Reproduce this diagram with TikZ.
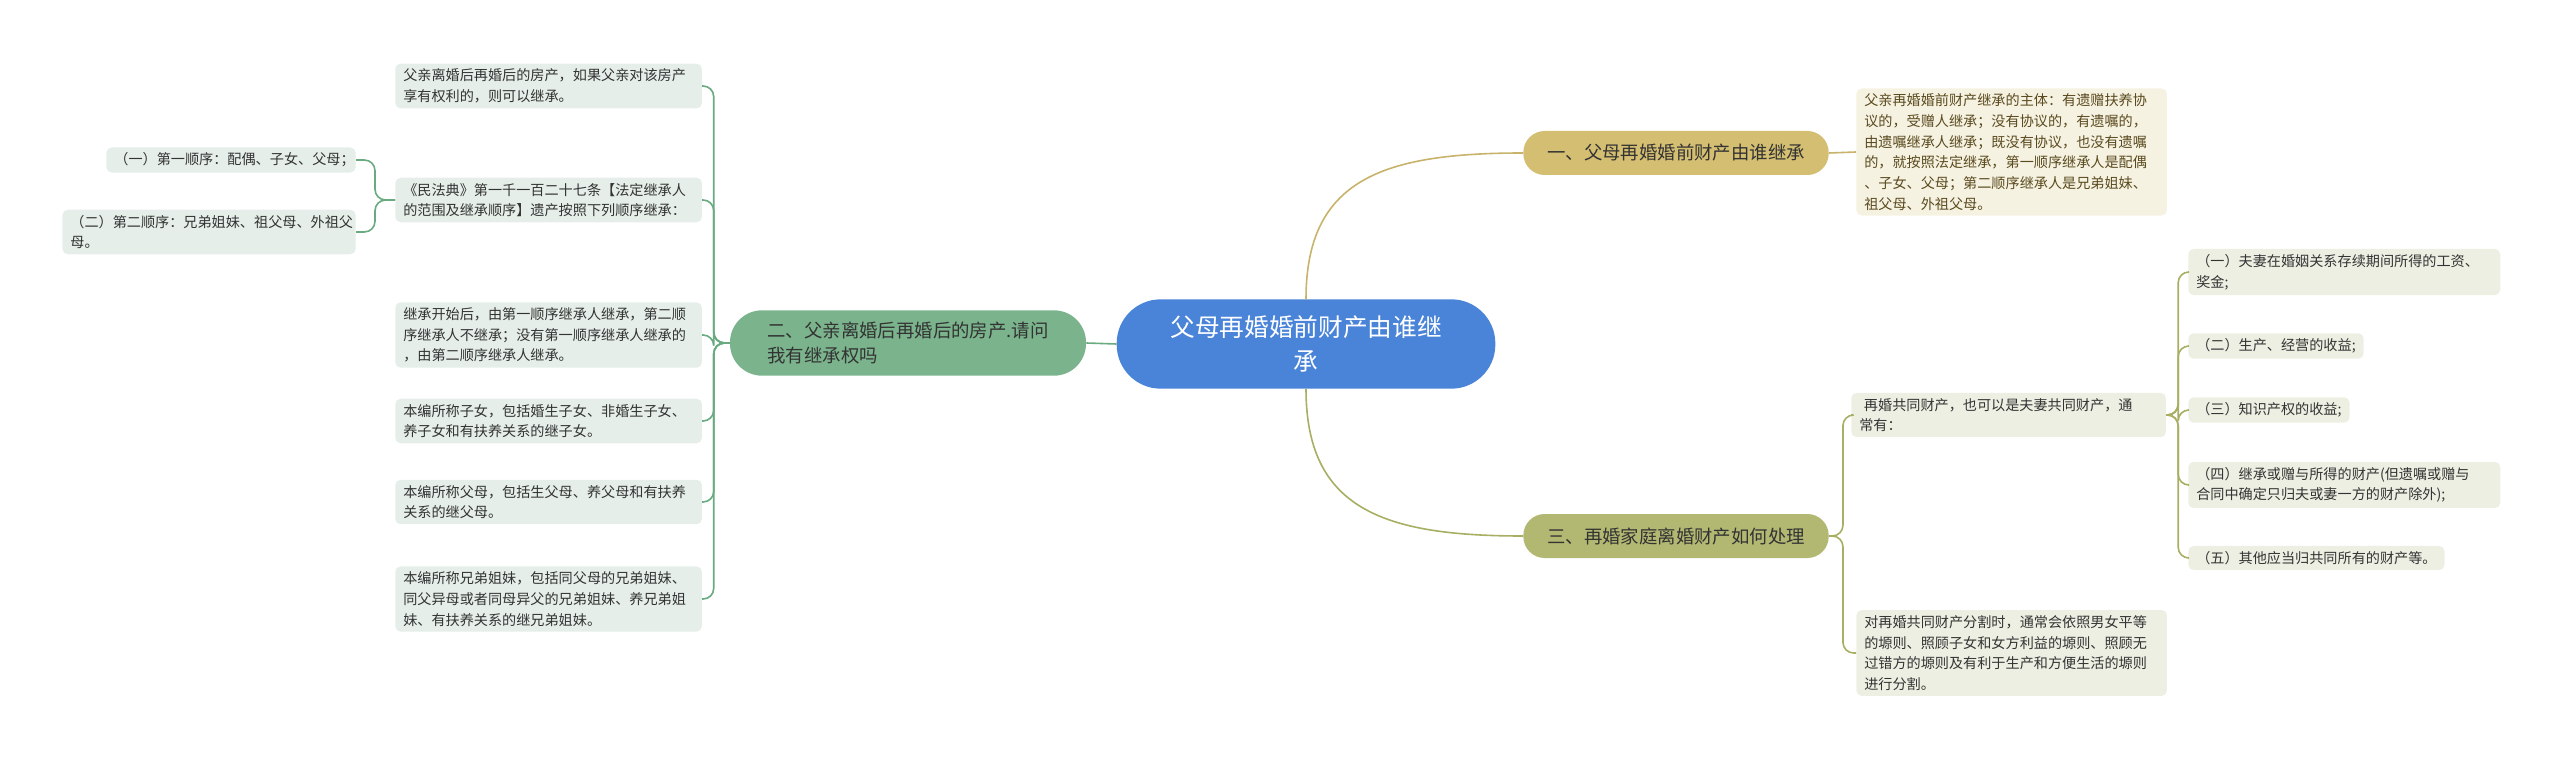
\documentclass[tikz,border=0pt]{standalone}
\usepackage{fontspec}
\setmainfont{Noto Sans CJK SC}
\definecolor{cblue}{HTML}{4A84D8}
\definecolor{cgreen}{HTML}{7AB38C}
\definecolor{lgreen}{HTML}{6AAA80}
\definecolor{cgold}{HTML}{D4BE72}
\definecolor{lgold}{HTML}{C8B36A}
\definecolor{colive}{HTML}{B2B872}
\definecolor{lolive}{HTML}{A8AE62}
\definecolor{fgreen}{HTML}{E5EEE8}
\definecolor{fgold}{HTML}{F6F2E2}
\definecolor{folive}{HTML}{EEEFE3}
\definecolor{tdark}{HTML}{333333}
\definecolor{tbrown}{HTML}{5A4A1E}
\tikzset{
  leaf/.style={rectangle, rounded corners=4pt, inner xsep=6pt, inner ysep=4pt, align=left, text=tdark,
    font=\fontsize{10.6}{15.5}\selectfont, anchor=west},
  gleaf/.style={leaf, fill=fgreen},
  oleaf/.style={leaf, fill=folive},
  yleaf/.style={leaf, fill=fgold, text=tbrown},
  mainb/.style={rectangle, rounded corners=16pt, minimum width=229pt, minimum height=33pt, font=\fontsize{13.8}{18}\selectfont, text=tdark},
  gl/.style={lgreen, line width=1.2pt, rounded corners=8pt},
  yl/.style={lgold, line width=1.2pt},
  ol/.style={lolive, line width=1.2pt, rounded corners=8pt},
}
\begin{document}
\begin{tikzpicture}[x=0.75pt,y=-0.75pt]
\useasboundingbox (0,0) rectangle (2560,759);
% center
\node[rectangle, rounded corners=33pt, fill=cblue, minimum width=284pt, minimum height=67pt, text=white, align=center,
  font=\fontsize{18.5}{26}\selectfont] (ctr) at (1306,344) {父母再婚婚前财产由谁继\\承};
% branches
\node[mainb, fill=cgold] (gold) at (1676,153) {一、父母再婚婚前财产由谁继承};
\node[mainb, fill=colive] (olive) at (1676,536) {三、再婚家庭离婚财产如何处理};
\node[rectangle, rounded corners=24pt, fill=cgreen, minimum width=267pt, minimum height=49pt, align=left, text=tdark,
  font=\fontsize{13.8}{19}\selectfont] (green) at (908,343) {二、父亲离婚后再婚后的房产.请问\\我有继承权吗};
% left leaves
\node[gleaf, text width=218pt] (b1) at (395,86) {父亲离婚后再婚后的房产，如果父亲对该房产\\享有权利的，则可以继承。};
\node[gleaf, text width=218pt] (b2) at (395,200) {《民法典》第一千一百二十七条【法定继承人\\的范围及继承顺序】遗产按照下列顺序继承：};
\node[gleaf, text width=218pt] (b3) at (395,335) {继承开始后，由第一顺序继承人继承，第二顺\\序继承人不继承；没有第一顺序继承人继承的\\，由第二顺序继承人继承。};
\node[gleaf, text width=218pt] (b4) at (395,421) {本编所称子女，包括婚生子女、非婚生子女、\\养子女和有扶养关系的继子女。};
\node[gleaf, text width=218pt] (b5) at (395,502) {本编所称父母，包括生父母、养父母和有扶养\\关系的继父母。};
\node[gleaf, text width=218pt] (b6) at (395,599) {本编所称兄弟姐妹，包括同父母的兄弟姐妹、\\同父异母或者同母异父的兄弟姐妹、养兄弟姐\\妹、有扶养关系的继兄弟姐妹。};
\node[gleaf, anchor=east, text width=175pt, align=right] (c1) at (356,160) {（一）第一顺序：配偶、子女、父母；};
\node[gleaf, anchor=east, text width=208pt] (c2) at (356,232) {（二）第二顺序：兄弟姐妹、祖父母、外祖父\\母。};
% right top leaf
\node[yleaf, text width=221pt] (t1) at (1856,152) {父亲再婚婚前财产继承的主体：有遗赠扶养协\\议的，受赠人继承；没有协议的，有遗嘱的，\\由遗嘱继承人继承；既没有协议，也没有遗嘱\\的，就按照法定继承，第一顺序继承人是配偶\\、子女、父母；第二顺序继承人是兄弟姐妹、\\祖父母、外祖父母。};
% right bottom leaves
\node[oleaf, text width=224pt] (r1) at (1851,415) {\ 再婚共同财产，也可以是夫妻共同财产，通\\常有：};
\node[oleaf, text width=221pt] (r2) at (1856,653) {对再婚共同财产分割时，通常会依照男女平等\\的塬则、照顾子女和女方利益的塬则、照顾无\\过错方的塬则及有利于生产和方便生活的塬则\\进行分割。};
\node[oleaf, text width=222pt] (s1) at (2188,272) {（一）夫妻在婚姻关系存续期间所得的工资、\\奖金;};
\node[oleaf] (s2) at (2188,346) {（二）生产、经营的收益;};
\node[oleaf] (s3) at (2188,410) {（三）知识产权的收益;};
\node[oleaf, text width=222pt] (s4) at (2188,485) {（四）继承或赠与所得的财产(但遗嘱或赠与\\合同中确定只归夫或妻一方的财产除外);};
\node[oleaf] (s5) at (2188,558) {（五）其他应当归共同所有的财产等。};
% connectors
\draw[yl] (ctr.north) .. controls +(0,-120) and +(-140,0) .. (gold.west);
\draw[lolive, line width=1.2pt] (ctr.south) .. controls +(0,120) and +(-140,0) .. (olive.west);
\draw[lgreen, line width=1.2pt] (ctr.west) -- (green.east);
\draw[yl] (gold.east) -- (t1.west);
\foreach \b in {b1,b2,b3,b4,b5,b6} \draw[gl] (green.west) -- ++(-16,0) |- (\b.east);
\foreach \c in {c1,c2} \draw[gl] (b2.west) -- ++(-20,0) |- (\c.east);
\foreach \r in {r1,r2} \draw[ol] (olive.east) -- ++(14,0) |- (\r.west);
\foreach \s in {s1,s2,s3,s4,s5} \draw[ol] (r1.east) -- ++(12,0) |- (\s.west);
\end{tikzpicture}
\end{document}
